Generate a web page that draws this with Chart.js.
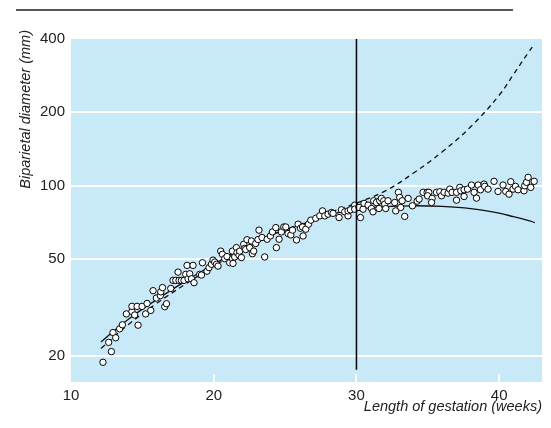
<!DOCTYPE html>
<html>
<head>
<meta charset="utf-8">
<title>Biparietal diameter by gestation</title>
<script src="https://cdn.jsdelivr.net/npm/chart.js@4"></script>
<style>
  html, body { margin: 0; padding: 0; background: #fff; }
</style>
</head>
<body>
<canvas id="chart" width="551" height="428"></canvas>
<script>
// measured points: gestation (weeks) and biparietal diameter (mm)
const weeks = [12.24,12.64,12.83,12.94,13.13,13.41,13.60,13.88,14.27,14.27,
  14.46,14.63,14.70,14.98,15.23,15.33,15.59,15.75,15.98,16.26,
  16.29,16.41,16.57,16.69,16.99,17.15,17.34,17.50,17.57,17.74,
  17.92,18.04,18.13,18.20,18.32,18.44,18.55,18.62,19.02,19.14,
  19.21,19.53,19.67,19.84,19.95,20.07,20.19,20.30,20.49,20.61,
  20.77,20.93,21.12,21.31,21.31,21.35,21.47,21.59,21.63,21.77,
  21.82,21.94,22.10,22.17,22.24,22.33,22.52,22.64,22.71,22.80,
  22.94,23.10,23.17,23.38,23.57,23.74,23.97,24.11,24.35,24.39,
  24.58,24.74,24.91,25.05,25.21,25.40,25.52,25.80,25.91,26.08,
  26.22,26.26,26.45,26.64,26.80,27.15,27.43,27.62,27.78,28.01,
  28.25,28.36,28.78,28.95,29.18,29.41,29.41,29.58,29.88,29.88,
  30.18,30.28,30.46,30.53,30.81,31.05,31.16,31.21,31.40,31.58,
  31.63,31.75,31.91,31.98,32.05,32.21,32.68,32.75,32.94,33.03,
  33.10,33.20,33.38,33.62,33.92,34.25,34.39,34.67,34.95,35.07,
  34.98,35.30,35.26,35.61,35.84,35.96,36.14,36.42,36.54,36.70,
  37.01,37.01,37.24,37.31,37.54,37.54,37.78,38.06,38.24,38.41,
  38.52,38.69,38.94,38.99,39.22,39.64,39.92,40.27,40.46,40.69,
  40.81,40.97,41.14,41.32,41.74,41.79,41.91,42.03,42.21,42.45];
const diameters = [18.8,22.7,20.8,24.9,23.7,25.8,26.8,29.7,30.4,31.9,
  29.4,31.9,26.7,31.9,29.7,32.8,30.7,37.0,34.5,35.3,
  36.6,38.1,31.8,32.7,37.8,40.8,40.8,44.1,40.8,40.8,
  40.8,43.2,47.0,41.4,43.4,41.4,47.0,39.9,43.2,42.9,
  48.2,44.5,46.0,47.5,49.4,48.5,47.5,46.7,53.8,52.2,
  50.1,51.1,48.2,50.1,53.8,47.9,50.9,55.6,53.0,51.8,
  53.8,50.6,57.4,55.2,54.6,59.9,55.6,59.2,52.5,53.8,
  57.8,60.0,65.6,61.2,50.9,60.2,62.1,64.5,67.2,55.6,
  60.2,64.5,67.6,67.6,63.5,62.7,65.6,59.8,69.4,66.8,
  67.6,62.1,66.2,69.4,72.1,73.4,75.1,78.7,75.1,76.3,
  77.5,76.9,73.9,79.5,78.0,75.1,78.7,79.5,83.1,80.0,
  81.3,73.9,80.0,84.5,83.1,80.5,78.0,86.6,85.2,80.5,
  86.6,88.6,86.6,83.9,80.5,86.6,85.2,78.7,93.8,89.4,
  81.3,86.6,74.7,88.6,82.6,86.3,88.0,93.8,93.8,93.8,
  90.8,88.6,85.2,93.8,94.3,90.8,93.8,93.1,96.7,93.8,
  87.1,93.8,98.3,95.2,90.2,96.1,96.7,100.5,93.8,88.8,
  100.5,96.1,101.4,99.3,96.7,104.1,94.6,100.5,94.6,92.2,
  103.7,96.7,99.3,96.1,95.2,99.8,103.1,108.1,98.3,104.1];

// fitted curves
const fitWeeks = [12.1,14,16,18,20,22,24,26,28,30,32,34,36,38,40,41,42,42.5];
const solidFit = [22.8,28.2,34.0,40.4,47.5,55.2,62.5,68.7,75.6,80.0,81.9,82.6,82.1,80.4,77.0,74.5,71.9,70.5];
const dashedFit = [21.4,26.8,32.8,39.3,46.6,54.7,62.5,69.2,77.0,84.7,94.9,112.6,137.5,174.3,235,286,349,383];

// vertical marker at 30 weeks
const cutoffWeek = 30;
const cutoffSpan = [400, 17.5];

const xTicks = [10, 20, 30, 40];
const yTicks = [20, 50, 100, 200, 400];
const xTickMarks = [20, 30, 40];

const FONT = "'Liberation Sans', Arial, sans-serif";
const TEXT = '#222';

const pairs = (xs, ys) => xs.map((x, i) => ({ x: x, y: ys[i] }));

const decor = {
  id: 'decor',
  beforeDraw(chart) {
    const { ctx, chartArea: a } = chart;
    ctx.save();
    ctx.fillStyle = '#fff';
    ctx.fillRect(0, 0, chart.width, chart.height);
    ctx.fillStyle = '#555';
    ctx.fillRect(16, 9, 497, 2);
    ctx.fillStyle = '#c7e9f8';
    ctx.fillRect(a.left, a.top, a.right - a.left, a.bottom - a.top);
    ctx.restore();
  },
  beforeDatasetsDraw(chart) {
    // short white ticks on the floor of the plot
    const { ctx, chartArea: a, scales } = chart;
    ctx.save();
    ctx.strokeStyle = '#fff';
    ctx.lineWidth = 2;
    xTickMarks.forEach(v => {
      const px = Math.round(scales.x.getPixelForValue(v));
      ctx.beginPath();
      ctx.moveTo(px, a.bottom);
      ctx.lineTo(px, a.bottom - 8);
      ctx.stroke();
    });
    ctx.restore();
  },
  afterDraw(chart) {
    const ctx = chart.ctx;
    ctx.save();
    ctx.translate(29.5, 30);
    ctx.rotate(-Math.PI / 2);
    ctx.font = 'italic 14.5px ' + FONT;
    ctx.fillStyle = TEXT;
    ctx.textAlign = 'right';
    ctx.textBaseline = 'alphabetic';
    ctx.fillText('Biparietal diameter (mm)', 0, 0);
    ctx.restore();
  }
};

new Chart(document.getElementById('chart'), {
  type: 'scatter',
  data: {
    datasets: [
      {
        label: '30 weeks',
        data: cutoffSpan.map(v => ({ x: cutoffWeek, y: v })),
        showLine: true,
        borderColor: '#000',
        borderWidth: 1.5,
        pointRadius: 0
      },
      {
        label: 'Measurements',
        data: pairs(weeks, diameters),
        pointRadius: 3.2,
        pointBackgroundColor: '#fff',
        pointBorderColor: '#000',
        pointBorderWidth: 1
      },
      {
        label: 'Fit',
        data: pairs(fitWeeks, solidFit),
        showLine: true,
        borderColor: '#111',
        borderWidth: 1.3,
        pointRadius: 0,
        tension: 0.4
      },
      {
        label: 'Extrapolated fit',
        data: pairs(fitWeeks, dashedFit),
        showLine: true,
        borderColor: '#111',
        borderWidth: 1.3,
        borderDash: [5, 4],
        pointRadius: 0,
        tension: 0.4
      }
    ]
  },
  options: {
    responsive: false,
    devicePixelRatio: 1,
    animation: false,
    layout: { padding: { top: 39, right: 9, left: 0, bottom: 0 } },
    plugins: {
      legend: { display: false },
      tooltip: { enabled: false }
    },
    scales: {
      x: {
        type: 'linear',
        min: 10,
        max: 43,
        afterBuildTicks(scale) {
          scale.ticks = xTicks.map(v => ({ value: v }));
        },
        grid: { display: false, drawTicks: false },
        border: { display: false },
        ticks: {
          padding: 5,
          color: TEXT,
          font: { family: FONT, size: 15 }
        },
        title: {
          display: true,
          text: 'Length of gestation (weeks)',
          align: 'end',
          color: TEXT,
          padding: { top: 0, bottom: 12 },
          font: { family: FONT, size: 14.5, style: 'italic' }
        },
        afterFit(scale) { scale.height = 46; }
      },
      y: {
        type: 'logarithmic',
        min: 15.6,
        max: 400,
        afterBuildTicks(scale) {
          scale.ticks = yTicks.map(v => ({ value: v }));
        },
        grid: {
          color: c => (c.tick && c.tick.value === 400 ? 'rgba(0,0,0,0)' : '#fff'),
          lineWidth: 2,
          drawTicks: false
        },
        border: { display: false },
        ticks: {
          padding: 6,
          color: TEXT,
          font: { family: FONT, size: 15 },
          callback: v => String(v)
        },
        afterFit(scale) { scale.width = 71; }
      }
    }
  },
  plugins: [decor]
});
</script>
</body>
</html>
